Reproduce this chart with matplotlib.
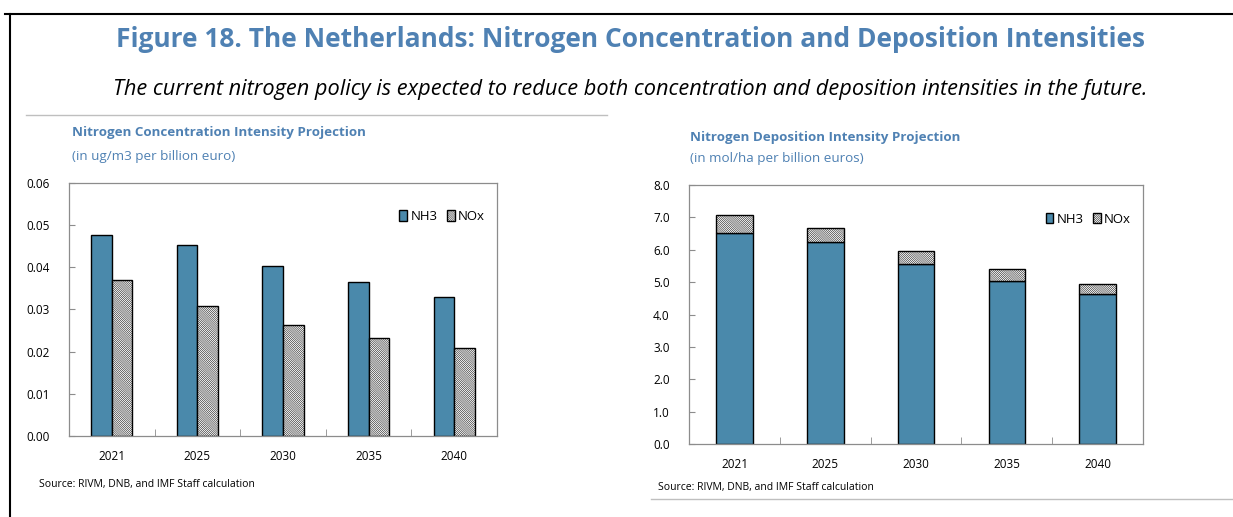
import numpy as np
import matplotlib
matplotlib.use("Agg")
import matplotlib.pyplot as plt
from matplotlib.lines import Line2D

# donnees
annees = ["2021", "2025", "2030", "2035", "2040"]
conc_nh3 = [0.0477, 0.0453, 0.0403, 0.0364, 0.0330]
conc_nox = [0.0370, 0.0308, 0.0263, 0.0233, 0.0208]
depo_nh3 = [6.53, 6.24, 5.55, 5.05, 4.63]
depo_nox = [0.55, 0.45, 0.40, 0.36, 0.32]

bleu_titre = "#4f81b3"
bleu_barre = "#4a89ab"
gris = "#8c8c8c"
hachure = "\\" * 16

plt.rcParams['font.family'] = ['Open Sans', 'DejaVu Sans']
plt.rcParams['hatch.linewidth'] = 0.35

fig = plt.figure(figsize=(12.33, 5.17), dpi=100)


def style_axe(ax, ymax, pas, fmt):
    ax.set_xlim(-0.5, len(annees) - 0.5)
    ax.set_ylim(0, ymax)
    ax.set_yticks(np.arange(0, ymax + pas / 2, pas))
    ax.set_yticklabels([fmt.format(v) for v in np.arange(0, ymax + pas / 2, pas)])
    ax.set_xticks(range(len(annees)))
    ax.set_xticklabels(annees)
    ax.set_xticks(np.arange(0.5, len(annees) - 0.5, 1), minor=True)
    ax.tick_params(axis='x', which='major', length=0, pad=10, labelsize=8.5)
    ax.tick_params(axis='x', which='minor', direction='in', length=5, color=gris)
    ax.tick_params(axis='y', direction='in', length=4, color=gris, labelsize=8.5, pad=14)
    for s in ax.spines.values():
        s.set_color(gris)
        s.set_linewidth(0.9)
    ax.legend(loc='upper right', ncol=2, frameon=False, fontsize=9.5,
              handlelength=0.6, handleheight=0.8, handletextpad=0.25,
              columnspacing=0.7, bbox_to_anchor=(1.0, 0.94))


############################################################################
# graphique de gauche : concentration
ax1 = fig.add_axes([0.056, 0.157, 0.347, 0.489])
x = np.arange(len(annees))
w = 0.24
ax1.bar(x - w / 2, conc_nh3, w, color=bleu_barre, edgecolor='black', linewidth=1.0, label="NH3")
ax1.bar(x + w / 2, conc_nox, w, color='white', edgecolor='black', linewidth=1.0,
        hatch=hachure, label="NOx")
style_axe(ax1, 0.06, 0.01, "{:.2f}")

############################################################################
# graphique de droite : deposition
ax2 = fig.add_axes([0.559, 0.141, 0.368, 0.501])
w2 = 0.40
ax2.bar(x, depo_nh3, w2, color=bleu_barre, edgecolor='black', linewidth=1.0, label="NH3")
ax2.bar(x, depo_nox, w2, bottom=depo_nh3, color='white', edgecolor='black', linewidth=1.0,
        hatch=hachure, label="NOx")
style_axe(ax2, 8.0, 1.0, "{:.1f}")

############################################################################
# textes
fig.text(0.511, 0.923, "Figure 18. The Netherlands: Nitrogen Concentration and Deposition Intensities",
         ha='center', va='center', fontsize=19, fontweight='bold', color=bleu_titre)
fig.text(0.511, 0.826, "The current nitrogen policy is expected to reduce both concentration and deposition intensities in the future.",
         ha='center', va='center', fontsize=15.7, style='italic', color='black')

fig.text(0.058, 0.743, "Nitrogen Concentration Intensity Projection", ha='left', va='center',
         fontsize=9.6, fontweight='bold', color=bleu_titre)
fig.text(0.058, 0.698, "(in ug/m3 per billion euro)", ha='left', va='center',
         fontsize=9.7, color=bleu_titre)
fig.text(0.560, 0.735, "Nitrogen Deposition Intensity Projection", ha='left', va='center',
         fontsize=9.6, fontweight='bold', color=bleu_titre)
fig.text(0.560, 0.694, "(in mol/ha per billion euros)", ha='left', va='center',
         fontsize=9.7, color=bleu_titre)

fig.text(0.032, 0.062, "Source: RIVM, DNB, and IMF Staff calculation", ha='left', va='center',
         fontsize=7.5, color='black')
fig.text(0.534, 0.058, "Source: RIVM, DNB, and IMF Staff calculation", ha='left', va='center',
         fontsize=7.5, color='black')

# cadre et filets
fig.add_artist(Line2D([0.004, 1.0], [0.973, 0.973], color='black', linewidth=1.5))
fig.add_artist(Line2D([0.0085, 0.0085], [0.0, 0.973], color='black', linewidth=1.5))
fig.add_artist(Line2D([0.021, 0.492], [0.778, 0.778], color='#bfbfbf', linewidth=1.0))
fig.add_artist(Line2D([0.528, 1.0], [0.035, 0.035], color='#bfbfbf', linewidth=1.0))

fig.savefig("out.png", dpi=100)
